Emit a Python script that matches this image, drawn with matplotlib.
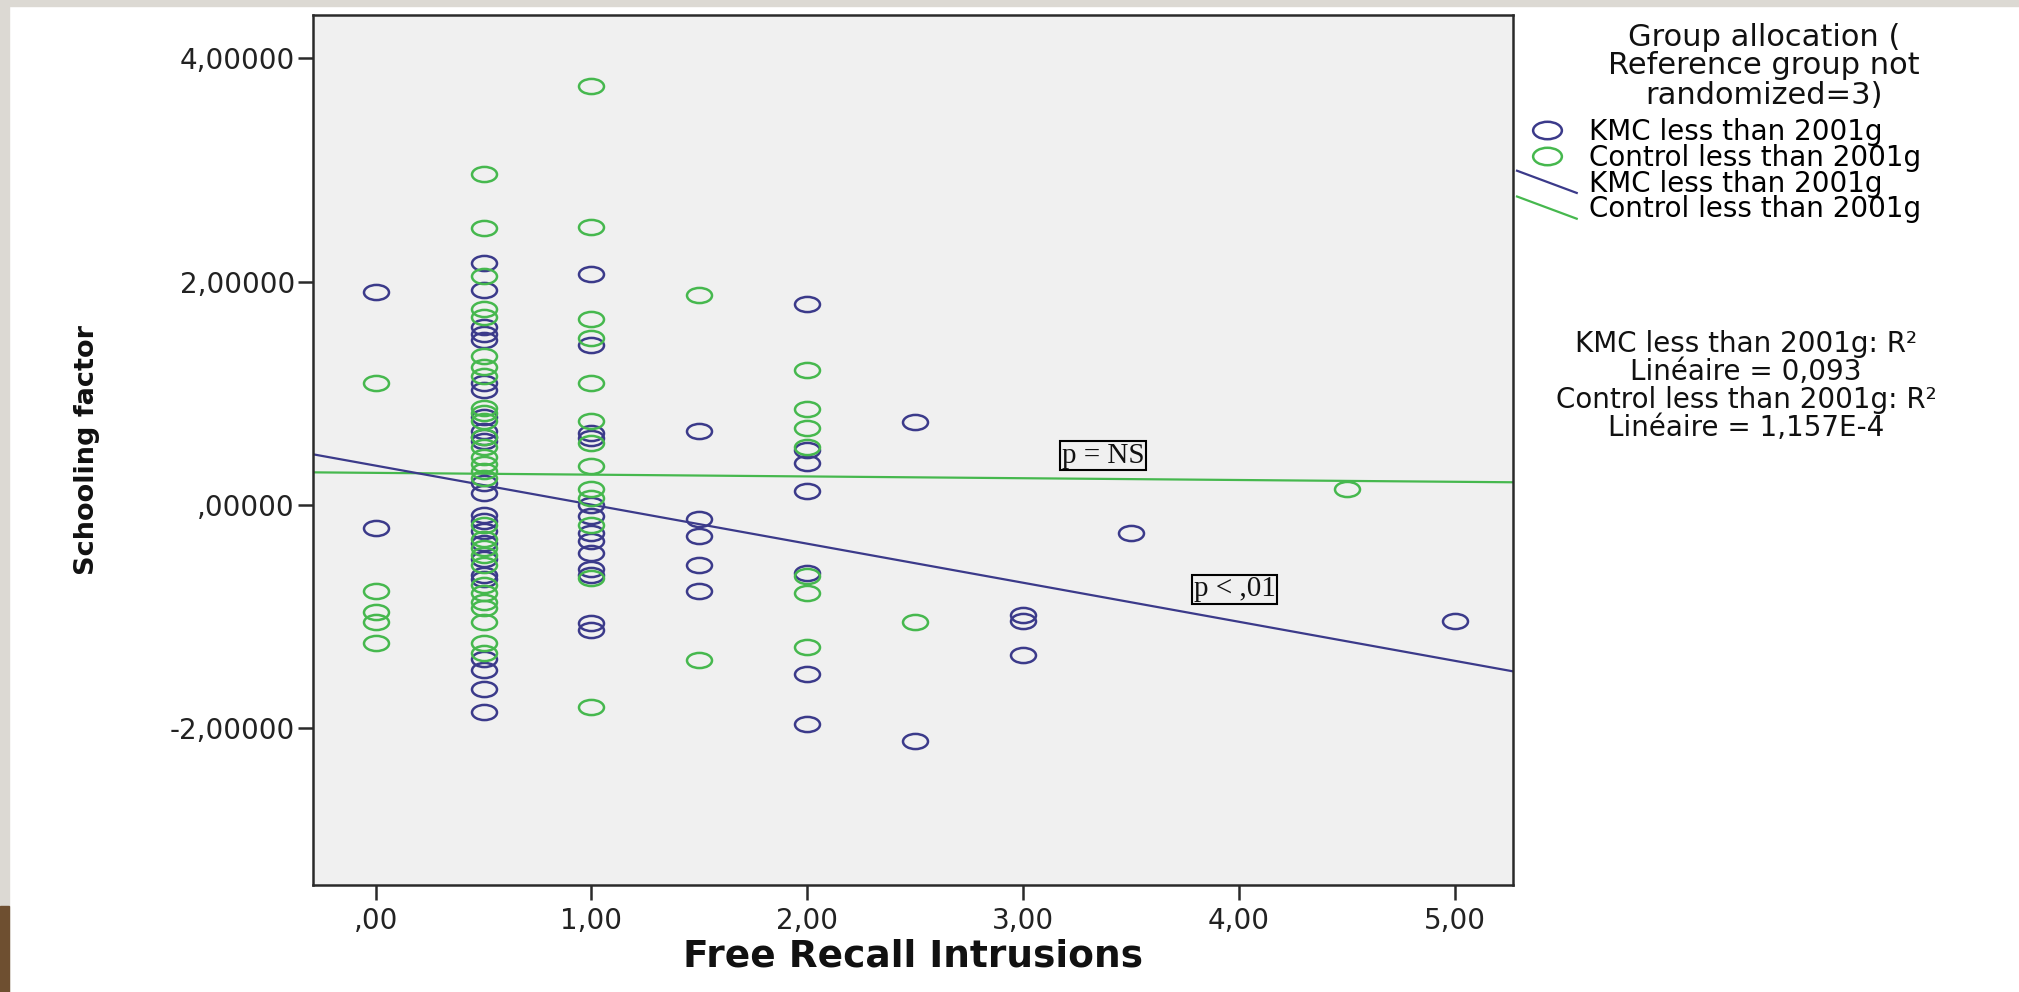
import numpy as np
import matplotlib
matplotlib.use("Agg")
import matplotlib.pyplot as plt
from matplotlib.path import Path
from matplotlib.transforms import Affine2D
from matplotlib.lines import Line2D
from matplotlib.patches import Rectangle
from matplotlib.legend_handler import HandlerBase

# ---------------- data ----------------
kmc_x = ([0.0] * 2 + [0.5] * 24 + [1.0] * 13 + [1.5] * 5 + [2.0] * 7
         + [2.5] * 2 + [3.0] * 3 + [3.5] + [5.0])
kmc_y = [1.91, -0.21,
         2.17, 1.92, 1.59, 1.53, 1.48, 1.09, 1.03, 0.79, 0.66, 0.61, 0.57, 0.19,
         0.10, -0.09, -0.15, -0.24, -0.34, -0.49, -0.63, -0.67, -1.38, -1.48,
         -1.65, -1.86,
         2.07, 1.43, 0.64, 0.60, 0.00, -0.10, -0.25, -0.33, -0.43, -0.58, -0.63,
         -1.06, -1.12,
         0.66, -0.13, -0.28, -0.54, -0.77,
         1.80, 0.49, 0.37, 0.12, -0.61, -1.52, -1.97,
         0.74, -2.12,
         -0.99, -1.04, -1.35,
         -0.25,
         -1.04]

ctrl_x = ([0.0] * 5 + [0.5] * 29 + [1.0] * 13 + [1.5] * 2 + [2.0] * 7
          + [2.5] + [4.5])
ctrl_y = [1.09, -0.77, -0.96, -1.05, -1.24,
          2.96, 2.48, 2.05, 1.75, 1.68, 1.33, 1.23, 1.15, 0.87, 0.82, 0.75, 0.61,
          0.52, 0.43, 0.36, 0.30, 0.24, -0.18, -0.31, -0.39, -0.45, -0.54, -0.72,
          -0.79, -0.87, -0.93, -1.05, -1.24, -1.33,
          3.75, 2.49, 1.66, 1.49, 1.09, 0.75, 0.55, 0.35, 0.14, 0.06, -0.18, -0.66,
          -1.81,
          1.88, -1.39,
          1.21, 0.86, 0.69, 0.52, -0.64, -0.79, -1.28,
          -1.05,
          0.14]

# linear fit lines as shown (intercept, slope)
kmc_fit = (0.35, -0.35)
ctrl_fit = (0.285, -0.016)

series_labels = ["KMC less than 2001g", "Control less than 2001g"]
legend_title = "Group allocation (\nReference group not\nrandomized=3)"
r2_text = ("KMC less than 2001g: R\u00b2\nLin\u00e9aire = 0,093\n"
           "Control less than 2001g: R\u00b2\nLin\u00e9aire = 1,157E-4")

xticks = [0, 1, 2, 3, 4, 5]
xtick_labels = [",00", "1,00", "2,00", "3,00", "4,00", "5,00"]
yticks = [-2, 0, 2, 4]
ytick_labels = ["-2,00000", ",00000", "2,00000", "4,00000"]

xlabel = "Free Recall Intrusions"
ylabel = "Schooling factor"

# ---------------- style ----------------
BLUE = "#3b3a8a"
GREEN = "#46b84e"
W, H = 2019, 992

fig = plt.figure(figsize=(W / 100, H / 100), dpi=100)
fig.patch.set_facecolor("white")
# slide border remnants
fig.patches.append(Rectangle((0, 0), 9 / W, 1, transform=fig.transFigure,
                             color="#dcd9d3", zorder=-5))
fig.patches.append(Rectangle((0, 1 - 6 / H), 1, 6 / H, transform=fig.transFigure,
                             color="#dcd9d3", zorder=-5))
fig.patches.append(Rectangle((0, 0), 9 / W, 86 / H, transform=fig.transFigure,
                             color="#6e4f30", zorder=-4))

ax = fig.add_axes([313 / W, 1 - 885 / H, 1200 / W, 870 / H])
ax.set_facecolor("#f0f0f0")
ax.set_xlim(-0.29, 5.27)
ax.set_ylim(-3.41, 4.39)

# ellipse marker (the picture is horizontally stretched)
ellipse = Path.unit_circle().transformed(Affine2D().scale(1.65, 1.0))

pt_kmc, = ax.plot(kmc_x, kmc_y, linestyle="none", marker=ellipse, ms=18,
                  mfc="none", mec=BLUE, mew=1.8, label=series_labels[0], zorder=3)
pt_ctrl, = ax.plot(ctrl_x, ctrl_y, linestyle="none", marker=ellipse, ms=18,
                   mfc="none", mec=GREEN, mew=1.8, label=series_labels[1], zorder=3)

xs = np.array(ax.get_xlim())
ln_ctrl, = ax.plot(xs, ctrl_fit[0] + ctrl_fit[1] * xs, color=GREEN, lw=1.6,
                   label=series_labels[1], zorder=2)
ln_kmc, = ax.plot(xs, kmc_fit[0] + kmc_fit[1] * xs, color=BLUE, lw=1.6,
                  label=series_labels[0], zorder=2)

box = dict(boxstyle="square,pad=0.06", fc="#f0f0f0", ec="black", lw=1.5)
ax.text(3.37, 0.44, "p = NS", ha="center", va="center", fontsize=21,
        family=["Liberation Serif", "DejaVu Serif"], color="#111111",
        bbox=box, zorder=4)
ax.text(3.98, -0.76, "p < ,01", ha="center", va="center", fontsize=21,
        family=["Liberation Serif", "DejaVu Serif"], color="#111111",
        bbox=box, zorder=4)

# axes styling
for s in ax.spines.values():
    s.set_color("#2a2a2a")
    s.set_linewidth(1.8)
ax.set_xticks(xticks)
ax.set_xticklabels(xtick_labels)
ax.set_yticks(yticks)
ax.set_yticklabels(ytick_labels)
ax.tick_params(axis="both", direction="out", length=11, width=1.8,
               color="#2a2a2a", labelsize=20, labelcolor="#222222")
ax.tick_params(axis="y", pad=2)
ax.tick_params(axis="x", pad=5)

ax.set_xlabel(xlabel, fontsize=27, fontweight="bold", color="#111111")
ax.xaxis.set_label_coords(0.5, -0.061)
ax.set_ylabel(ylabel, fontsize=19.5, fontweight="bold", color="#111111")
ax.yaxis.set_label_coords(-0.1775, 0.5)


class SlopedLine(HandlerBase):
    def create_artists(self, legend, orig_handle, xdescent, ydescent, width,
                       height, fontsize, trans):
        ln = Line2D([-xdescent, width - xdescent],
                    [height - ydescent + 1, -ydescent - 1],
                    color=orig_handle.get_color(),
                    lw=orig_handle.get_linewidth())
        ln.set_transform(trans)
        return [ln]


leg = ax.legend([pt_kmc, pt_ctrl, ln_kmc, ln_ctrl],
                [series_labels[0], series_labels[1], series_labels[0], series_labels[1]],
                handler_map={ln_kmc: SlopedLine(), ln_ctrl: SlopedLine()},
                loc="upper left", bbox_to_anchor=(1517 / W, 1 - 118 / H),
                bbox_transform=fig.transFigure, frameon=False, fontsize=20,
                handlelength=2.15, handletextpad=0.45, borderpad=0,
                borderaxespad=0, labelspacing=-0.08, markerscale=1.15)

# legend title, centred above the entries
fig.text(1764 / W, 1 - 66 / H, legend_title, ha="center", va="center",
         multialignment="center", fontsize=22, linespacing=1.0, color="#111111")

fig.text(1746 / W, 1 - 386 / H, r2_text, ha="center", va="center",
         multialignment="center", fontsize=20, linespacing=1.0, color="#111111")

fig.savefig("out.png", dpi=100, facecolor=fig.get_facecolor())
